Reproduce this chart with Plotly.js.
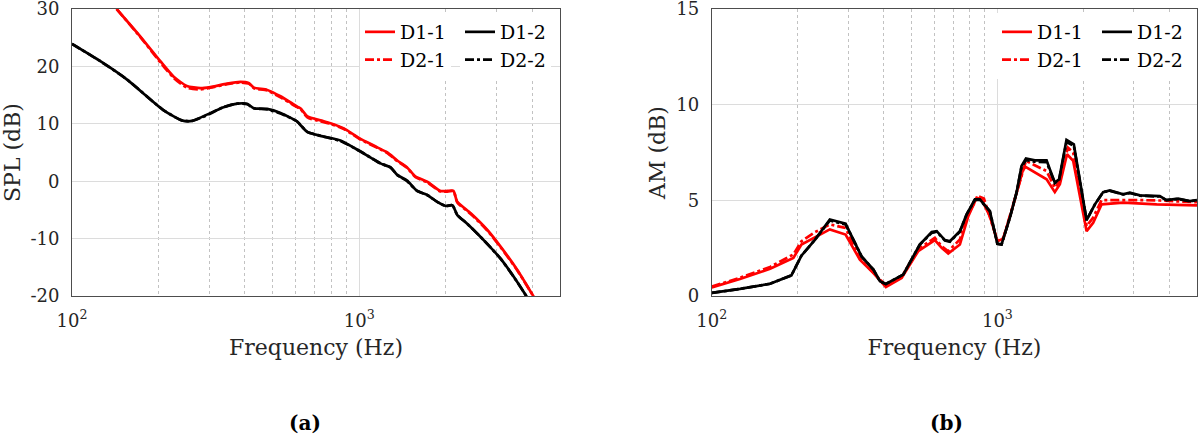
<!DOCTYPE html>
<html>
<head>
<meta charset="utf-8">
<script src="https://cdn.plot.ly/plotly-3.0.1.min.js"></script>
<style>html,body{margin:0;padding:0;background:#fff;}#chart{width:1200px;height:435px;}</style>
</head>
<body>
<div id="chart"></div>
<script>
// ---------- Panel (a): SPL ----------
const splFreqD11 = [143, 173, 203, 226, 251, 280, 303, 347, 386, 412, 430, 478, 532, 608, 624, 660, 733, 794, 884, 1000, 1156, 1253, 1356, 1468, 1571, 1725, 1918, 2027, 2128, 2195, 2444, 2793, 3105, 3557, 4058];
const splD11     = [30.0, 25.2, 20.9, 18.2, 16.6, 16.2, 16.4, 17.0, 17.3, 17.1, 16.3, 15.9, 14.8, 13.0, 12.7, 11.3, 10.6, 10.1, 9.2, 7.5, 5.9, 5.0, 3.6, 2.4, 0.8, -0.1, -1.7, -1.7, -1.7, -3.6, -5.6, -8.5, -11.4, -15.5, -20.2];
const splFreqD21 = [143, 173, 203, 226, 251, 280, 303, 347, 386, 412, 430, 478, 532, 608, 624, 660, 733, 794, 884, 1000, 1156, 1253, 1356, 1468, 1571, 1725, 1918, 2027, 2128, 2195, 2444, 2793, 3105, 3557, 4058];
const splD21     = [30.0, 25.1, 20.7, 18.0, 16.3, 16.0, 16.3, 16.9, 17.2, 17.0, 16.2, 15.8, 14.6, 12.9, 12.6, 11.1, 10.4, 10.0, 9.1, 7.4, 5.8, 4.9, 3.5, 2.3, 0.7, -0.2, -1.8, -1.8, -1.7, -3.7, -5.7, -8.6, -11.5, -15.6, -20.2];
const splFreqD12 = [100, 125.5, 155.5, 208, 241, 262, 295, 337, 376, 407, 430, 478, 532, 608, 624, 659, 733, 860, 1000, 1186, 1285, 1356, 1468, 1591, 1725, 1869, 2000, 2111, 2195, 2376, 2717, 3105, 3456, 3850];
const splD12     = [23.9, 20.9, 17.7, 12.4, 10.6, 10.5, 11.6, 12.9, 13.5, 13.5, 12.7, 12.6, 11.9, 10.4, 9.8, 8.6, 7.9, 7.1, 5.3, 3.1, 2.4, 1.1, 0.1, -1.7, -2.4, -3.6, -4.3, -4.2, -5.9, -7.4, -10.3, -13.5, -16.7, -20.3];
const splFreqD22 = [100, 125.5, 155.5, 208, 241, 262, 295, 337, 376, 407, 430, 478, 532, 608, 624, 659, 733, 860, 1000, 1186, 1285, 1356, 1468, 1591, 1725, 1869, 2000, 2111, 2195, 2376, 2717, 3105, 3456, 3850];
const splD22     = [23.9, 20.9, 17.7, 12.4, 10.6, 10.5, 11.5, 12.9, 13.5, 13.4, 12.7, 12.5, 11.8, 10.4, 9.8, 8.6, 7.9, 7.0, 5.3, 3.1, 2.4, 1.1, 0.0, -1.7, -2.4, -3.6, -4.3, -4.2, -5.9, -7.4, -10.3, -13.5, -16.7, -20.3];

// ---------- Panel (b): AM ----------
const amFreqD11 = [100, 125.5, 160, 193, 206, 230, 259, 294, 330, 368, 407, 462, 528, 604, 638, 673, 739, 791, 846, 880, 941, 1000, 1048, 1121, 1167, 1230, 1259, 1487, 1589, 1655, 1753, 1843, 2053, 2165, 2316, 2756, 3610, 5000];
const amD11     = [0.45, 0.89, 1.42, 1.99, 2.69, 3.07, 3.48, 3.21, 1.90, 1.20, 0.47, 0.94, 2.34, 2.92, 2.52, 2.22, 2.69, 4.17, 5.14, 5.05, 4.17, 2.86, 2.99, 4.44, 5.40, 6.62, 6.74, 6.10, 5.43, 5.84, 7.41, 7.06, 3.39, 3.83, 4.79, 4.88, 4.79, 4.74];
const amFreqD21 = [100, 125.5, 160, 193, 206, 230, 259, 294, 330, 368, 407, 462, 528, 604, 638, 673, 739, 791, 857, 897, 941, 1000, 1048, 1121, 1167, 1259, 1487, 1589, 1655, 1765, 1843, 2053, 2165, 2316, 3155, 3705, 5000];
const amD21     = [0.50, 0.95, 1.52, 2.17, 2.86, 3.34, 3.74, 3.56, 1.95, 1.25, 0.55, 1.00, 2.45, 3.04, 2.60, 2.34, 2.95, 4.30, 5.22, 5.10, 4.17, 2.90, 3.00, 4.50, 5.50, 7.06, 6.53, 5.66, 6.00, 7.76, 7.50, 3.65, 4.10, 5.01, 5.01, 4.99, 4.90];
const amFreqD12 = [100, 125.5, 160, 190, 206, 230, 259, 294, 313, 335, 368, 388, 407, 468, 535, 589, 613, 655, 682, 739, 780, 834, 868, 941, 1000, 1034, 1106, 1167, 1215, 1259, 1353, 1487, 1527, 1589, 1645, 1746, 1852, 2053, 2195, 2346, 2475, 2756, 2909, 3155, 3705, 3910, 4293, 4718, 5000];
const amD12     = [0.16, 0.37, 0.64, 1.08, 2.11, 2.95, 4.00, 3.78, 2.95, 2.05, 1.38, 0.77, 0.63, 1.12, 2.69, 3.34, 3.39, 2.92, 2.86, 3.39, 4.26, 5.05, 5.05, 4.44, 2.73, 2.69, 4.09, 5.40, 6.80, 7.18, 7.09, 7.09, 6.62, 5.93, 6.10, 8.16, 7.93, 3.96, 4.79, 5.43, 5.52, 5.31, 5.40, 5.26, 5.22, 5.01, 5.09, 4.96, 5.01];
const amFreqD22 = [100, 125.5, 160, 190, 206, 230, 259, 294, 313, 335, 368, 388, 407, 468, 535, 589, 613, 655, 682, 739, 780, 834, 868, 941, 1000, 1034, 1106, 1167, 1215, 1259, 1353, 1487, 1527, 1589, 1645, 1746, 1852, 2053, 2195, 2346, 2475, 2756, 2909, 3155, 3705, 3910, 4293, 4718, 5000];
const amD22     = [0.16, 0.37, 0.64, 1.08, 2.11, 2.95, 3.95, 3.74, 2.95, 2.05, 1.38, 0.77, 0.63, 1.12, 2.69, 3.30, 3.36, 2.90, 2.84, 3.36, 4.26, 5.02, 5.02, 4.44, 2.73, 2.69, 4.09, 5.40, 6.75, 7.10, 7.02, 7.00, 6.55, 5.90, 6.08, 8.05, 7.85, 3.96, 4.79, 5.43, 5.50, 5.31, 5.38, 5.24, 5.20, 5.01, 5.07, 4.95, 5.00];

const seriesNames = ['D1-1', 'D1-2', 'D2-1', 'D2-2'];
const xTickVals = [100, 1000];
const xTickText = ['10<sup>2</sup>', '10<sup>3</sup>'];
const splTickVals = [-20, -10, 0, 10, 20, 30];
const splTickText = ['-20', '-10', '0', '10', '20', '30'];
const amTickVals = [0, 5, 10, 15];
const amTickText = ['0', '5', '10', '15'];
const panelLabels = ['(a)', '(b)'];

const RED = '#ff0000', BLACK = '#000000';
const FONT = 'DejaVu Serif, Liberation Serif, serif';
const LW = 2.7;

function tr(x, y, name, color, dash, xa, ya, leg, shape) {
  return {
    x: x, y: y, name: name, type: 'scatter', mode: 'lines',
    line: {color: color, width: LW, dash: dash, shape: shape || 'linear', smoothing: 0.6},
    xaxis: xa, yaxis: ya, legend: leg,
    hoverinfo: 'skip'
  };
}

const data = [
  tr(splFreqD11, splD11, seriesNames[0], RED, 'solid', 'x', 'y', 'legend', 'spline'),
  tr(splFreqD21, splD21, seriesNames[2], RED, 'dashdot', 'x', 'y', 'legend', 'spline'),
  tr(splFreqD12, splD12, seriesNames[1], BLACK, 'solid', 'x', 'y', 'legend2', 'spline'),
  tr(splFreqD22, splD22, seriesNames[3], BLACK, 'dashdot', 'x', 'y', 'legend2', 'spline'),
  tr(amFreqD11, amD11, seriesNames[0], RED, 'solid', 'x2', 'y2', 'legend3'),
  tr(amFreqD21, amD21, seriesNames[2], RED, 'dashdot', 'x2', 'y2', 'legend3'),
  tr(amFreqD12, amD12, seriesNames[1], BLACK, 'solid', 'x2', 'y2', 'legend4'),
  tr(amFreqD22, amD22, seriesNames[3], BLACK, 'dashdot', 'x2', 'y2', 'legend4')
];

const W = 1200, H = 435;
const mL = 72, mR = 3, mT = 9, mB = 139;
const pw = W - mL - mR, ph = H - mT - mB;
const px = v => (v - mL) / pw;
const py = v => (H - mB - v) / ph;

function xax(domain, anchor) {
  return {
    type: 'log', range: [2, Math.log10(5000)], domain: domain, anchor: anchor,
    tickvals: xTickVals, ticktext: xTickText,
    tickfont: {family: FONT, size: 18, color: '#262626'},
    ticks: '', ticklabelstandoff: 8, ticklabeloverflow: 'allow',
    showgrid: true, gridcolor: '#dcdcdc', gridwidth: 1,
    minor: {dtick: 'D1', showgrid: true, gridcolor: '#c2c2c2', griddash: 'dot', gridwidth: 1, ticks: ''},
    showline: true, linecolor: '#4d4d4d', linewidth: 1, mirror: true,
    zeroline: false, automargin: true,
    title: {text: 'Frequency (Hz)', standoff: 10, font: {family: FONT, size: 22, color: '#262626'}}
  };
}
function yax(range, tv, tt, title, anchor, so) {
  return {
    range: range, tickvals: tv, ticktext: tt, domain: [0, 1], anchor: anchor,
    tickfont: {family: FONT, size: 18, color: '#262626'},
    ticks: '', ticklabelstandoff: 8, ticklabeloverflow: 'allow',
    showgrid: true, gridcolor: '#dcdcdc', gridwidth: 1,
    showline: true, linecolor: '#4d4d4d', linewidth: 1, mirror: true,
    zeroline: false, automargin: true,
    title: {text: title, standoff: so, font: {family: FONT, size: 22, color: '#262626'}}
  };
}
function leg(leftPx) {
  return {
    x: px(leftPx), y: py(13), xanchor: 'left', yanchor: 'top',
    bgcolor: '#ffffff', borderwidth: 0, tracegroupgap: 0,
    font: {family: FONT, size: 19, color: '#000'}, orientation: 'v'
  };
}

const layout = {
  width: W, height: H,
  margin: {l: mL, r: mR, t: mT, b: mB, pad: 0, autoexpand: false},
  paper_bgcolor: '#ffffff', plot_bgcolor: '#ffffff',
  showlegend: true,
  xaxis: xax([0, px(560)], 'y'),
  yaxis: yax([-20, 30], splTickVals, splTickText, 'SPL (dB)', 'x', 6),
  xaxis2: xax([px(711.8), 1], 'y2'),
  yaxis2: yax([0, 15], amTickVals, amTickText, 'AM (dB)', 'x2', 4),
  legend: leg(360), legend2: leg(460), legend3: leg(997), legend4: leg(1097),
  annotations: [
    {text: '<b>' + panelLabels[0] + '</b>', xref: 'paper', yref: 'paper', x: px(305), y: py(423), xanchor: 'center', yanchor: 'middle', showarrow: false, font: {family: FONT, size: 20, color: '#000'}},
    {text: '<b>' + panelLabels[1] + '</b>', xref: 'paper', yref: 'paper', x: px(946), y: py(423), xanchor: 'center', yanchor: 'middle', showarrow: false, font: {family: FONT, size: 20, color: '#000'}}
  ]
};

Plotly.newPlot('chart', data, layout, {staticPlot: true, displayModeBar: false});
</script>
</body>
</html>
